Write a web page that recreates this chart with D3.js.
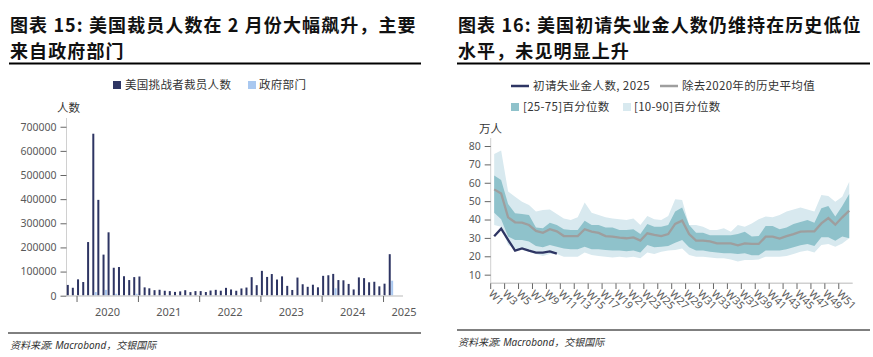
<!DOCTYPE html>
<html><head><meta charset="utf-8">
<script src="https://cdn.jsdelivr.net/npm/d3@7"></script>
<style>
body{margin:0;background:#fff;}
svg{display:block;}
text{font-family:"Noto Sans","Noto Sans CJK SC",sans-serif;}
.cjk{font-family:"Noto Sans CJK SC",sans-serif;}
</style></head>
<body>
<svg id="c" width="873" height="357"></svg>
<script>
// ---------- Left chart data (monthly, Nov 2019 - Feb 2025) ----------
const months = d3.range(0, 64).map(i => new Date(2019, 10 + i, 1));
const challengerCuts = [44569,32843,67735,56660,222288,671129,397016,170219,262649,115762,118804,80666,64797,77030,
  79552,34531,30603,22913,24586,20476,18942,15723,17895,22822,14875,19052,
  19064,15245,21387,24286,20712,32517,25810,20485,29989,33843,76835,43651,
  102943,77770,89703,66995,80089,40709,23697,75151,47457,36836,45510,34817,
  82307,84638,90309,64789,63816,48786,25885,75891,72821,55597,57727,38792,
  49795,172017];
const governmentCuts = [0,0,0,0,0,15000,0,24000,0,8000,0,0,0,8000,
  0,0,0,0,0,0,0,0,0,0,0,0,
  0,0,0,0,0,0,0,0,0,0,0,0,
  0,0,0,0,0,0,0,0,0,0,0,0,
  0,0,31000,0,0,0,0,0,0,0,0,0,
  0,62242];
const leftYTicks = [0,100000,200000,300000,400000,500000,600000,700000];
const yearLabels = [2020,2021,2022,2023,2024,2025];

// ---------- Right chart data (weekly, 万人) ----------
const weeks = d3.range(1, 53).map(i => "W" + i);
const claims2025 = [30.9,35.0,28.9,23.1,24.3,23.1,22.0,22.0,22.7,21.4];
const histAvg = [56.4,54.2,41.2,38.5,38.3,37.0,33.8,32.8,34.7,33.6,31.0,31.0,31.0,34.7,33.4,32.7,31.0,30.7,30.1,29.8,30.3,28.5,32.5,31.6,
  31.0,32.1,37.6,39.4,32.1,28.5,28.5,28.1,27.0,27.0,27.0,26.0,27.0,26.7,26.7,30.7,30.7,29.6,31.0,32.1,33.4,33.6,33.6,37.9,40.8,37.2,41.2,44.8];
const p75 = [63.9,61.5,48.4,43.4,43.0,42.5,35.7,35.2,38.3,37.0,34.7,34.3,34.3,39.4,37.0,37.0,35.7,35.7,34.3,34.3,34.7,32.1,37.6,36.1,
  36.1,37.0,44.3,46.6,37.0,32.8,32.8,31.4,31.4,31.4,31.4,32.1,33.4,30.7,31.0,36.5,36.5,34.7,35.7,37.6,38.7,39.7,38.3,46.1,47.4,41.6,47.4,53.9];
const p25 = [43.7,40.1,30.7,28.9,28.9,28.0,25.6,24.9,26.1,25.2,24.3,23.8,23.8,25.2,23.8,23.8,23.4,23.1,23.1,22.7,23.1,22.0,26.1,24.9,
  25.2,25.6,27.4,28.9,24.9,23.1,23.1,22.5,22.0,21.6,21.6,21.2,21.6,20.5,20.5,23.1,23.1,23.1,23.8,24.9,26.0,26.7,25.6,30.3,30.3,28.5,30.7,29.8];
const p90 = [75.6,77.5,55.2,52.4,49.7,47.9,44.3,45.2,45.5,43.0,40.6,39.7,41.2,49.2,43.7,42.5,41.2,40.6,40.1,39.7,40.6,37.0,41.9,40.1,
  39.7,41.9,51.0,50.6,37.0,37.0,36.1,34.3,34.3,35.2,33.4,37.0,36.1,37.9,40.1,41.6,41.2,42.5,44.3,45.5,46.6,45.5,44.3,53.3,52.8,49.7,52.4,60.6];
const p10 = [37.0,36.1,26.1,24.3,23.4,22.5,21.2,20.2,21.2,21.2,19.8,19.8,19.8,22.0,20.7,20.2,19.8,19.4,19.8,19.4,19.8,18.9,22.0,21.2,
  22.5,23.1,23.4,24.3,20.7,19.8,19.8,19.4,18.9,18.9,18.3,17.1,18.0,18.0,18.3,19.8,19.8,19.8,20.2,21.2,22.5,23.1,22.0,26.1,26.7,25.2,27.0,29.8];
const rightYTicks = [10,20,30,40,50,60,70,80];

const NAVY = "#2e3563", LIGHTBLUE = "#a9c8f0", TEAL = "#8fc2cb", PALE = "#d8e9ef", GREY = "#9e9e9e", TXT = "#595959", AX = "#d0d0d0";

const svg = d3.select("#c");

// ---------- Titles ----------
function title(x, lines){
  const t = svg.append("text").attr("class","cjk").attr("x",x).attr("y",32)
    .attr("font-size",18).attr("font-weight",700).attr("fill","#111").attr("letter-spacing","1.1px");
  lines.forEach((l,i)=> t.append("tspan").attr("x",x).attr("y",32+i*26).text(l));
}
title(10, ["图表 15: 美国裁员人数在 2 月份大幅飙升，主要","来自政府部门"]);
title(458, ["图表 16: 美国初请失业金人数仍维持在历史低位","水平，未见明显上升"]);
svg.append("line").attr("x1",9).attr("x2",421).attr("y1",63.5).attr("y2",63.5).attr("stroke","#000").attr("stroke-width",1.8);
svg.append("line").attr("x1",457).attr("x2",870).attr("y1",63.5).attr("y2",63.5).attr("stroke","#000").attr("stroke-width",1.8);

// ---------- Footers ----------
svg.append("line").attr("x1",8).attr("x2",421).attr("y1",333).attr("y2",333).attr("stroke","#000").attr("stroke-width",1);
svg.append("line").attr("x1",457).attr("x2",870).attr("y1",330).attr("y2",330).attr("stroke","#000").attr("stroke-width",1);
svg.append("text").attr("x",10).attr("y",349).attr("font-size",10).attr("font-style","italic").attr("fill","#333").text("资料来源: Macrobond，交银国际");
svg.append("text").attr("x",458).attr("y",346).attr("font-size",10).attr("font-style","italic").attr("fill","#333").text("资料来源: Macrobond，交银国际");

// ---------- Left chart ----------
const xL = d3.scaleTime().domain([new Date(2019,10,1), new Date(2025,3,27)]).range([66.8, 403]);
const yL = d3.scaleLinear().domain([0, 730000]).range([295.7, 119.5]);
const gL = svg.append("g");

// legend
gL.append("rect").attr("x",113).attr("y",81).attr("width",8).attr("height",8).attr("fill",NAVY);
gL.append("text").attr("class","cjk").attr("x",125).attr("y",89).attr("font-size",11.5).attr("letter-spacing","0.3px").attr("fill","#333").text("美国挑战者裁员人数");
gL.append("rect").attr("x",248).attr("y",81).attr("width",8).attr("height",8).attr("fill",LIGHTBLUE);
gL.append("text").attr("class","cjk").attr("x",259).attr("y",89).attr("font-size",11.5).attr("letter-spacing","0.3px").attr("fill","#333").text("政府部门");
gL.append("text").attr("class","cjk").attr("x",57).attr("y",112).attr("font-size",11.5).attr("fill","#333").text("人数");

// y axis
const yAxL = d3.axisLeft(yL).tickValues(leftYTicks).tickSize(6).tickPadding(4).tickFormat(d3.format("d"));
const gy = gL.append("g").attr("transform","translate(66.5,0)").call(yAxL);
gy.select(".domain").attr("stroke",AX).attr("d","M0,118V295.7");
gy.selectAll(".tick line").attr("stroke","#666");
gy.selectAll(".tick text").attr("fill",TXT).attr("font-size",10.5).attr("font-family","Noto Sans");

// bars
gL.selectAll("rect.ch").data(months).join("rect").attr("class","ch")
  .attr("x",(d)=>xL(d)).attr("width",2)
  .attr("y",(d,i)=>yL(challengerCuts[i])).attr("height",(d,i)=>yL(0)-yL(challengerCuts[i]))
  .attr("fill",NAVY);
gL.selectAll("rect.gov").data(months).join("rect").attr("class","gov")
  .attr("x",(d)=>xL(d)+2.4).attr("width",2)
  .attr("y",(d,i)=>yL(governmentCuts[i])).attr("height",(d,i)=>yL(0)-yL(governmentCuts[i]))
  .attr("fill",LIGHTBLUE);

// x axis
gL.append("line").attr("x1",66.5).attr("x2",403).attr("y1",296).attr("y2",296).attr("stroke",AX).attr("stroke-width",1.5);
gL.selectAll("line.yt").data(yearLabels).join("line").attr("class","yt")
  .attr("x1",d=>xL(new Date(d,0,1))).attr("x2",d=>xL(new Date(d,0,1)))
  .attr("y1",296).attr("y2",302).attr("stroke","#666");
gL.selectAll("text.yl").data(yearLabels).join("text").attr("class","yl")
  .attr("x",d=>Math.min(xL(new Date(d,6,1)), 404)).attr("y",316).attr("text-anchor","middle")
  .attr("font-size",11).attr("fill",TXT).text(d=>d);

// ---------- Right chart ----------
const xR = d3.scaleBand().domain(weeks).range([490.7, 852.7]).padding(0);
const yR = d3.scaleLinear().domain([5.3, 84.3]).range([283.3, 138.1]);
const cx = w => xR(w) + xR.bandwidth()/2;
const gR = svg.append("g");

// legend
gR.append("line").attr("x1",511).attr("x2",529).attr("y1",86).attr("y2",86).attr("stroke",NAVY).attr("stroke-width",2.5);
gR.append("text").attr("class","cjk").attr("x",533).attr("y",90).attr("font-size",11.5).attr("letter-spacing","0.4px").attr("fill","#333").text("初请失业金人数, 2025");
gR.append("line").attr("x1",660).attr("x2",678).attr("y1",86).attr("y2",86).attr("stroke",GREY).attr("stroke-width",2.5);
gR.append("text").attr("class","cjk").attr("x",682).attr("y",90).attr("font-size",11.5).attr("letter-spacing","0.3px").attr("fill","#333").text("除去2020年的历史平均值");
gR.append("rect").attr("x",511).attr("y",103).attr("width",8).attr("height",8).attr("fill",TEAL);
gR.append("text").attr("class","cjk").attr("x",523).attr("y",111).attr("font-size",11.5).attr("letter-spacing","0.3px").attr("fill","#333").text("[25-75]百分位数");
gR.append("rect").attr("x",623).attr("y",103).attr("width",8).attr("height",8).attr("fill",PALE);
gR.append("text").attr("class","cjk").attr("x",634).attr("y",111).attr("font-size",11.5).attr("letter-spacing","0.3px").attr("fill","#333").text("[10-90]百分位数");
gR.append("text").attr("class","cjk").attr("x",479).attr("y",133).attr("font-size",11.5).attr("fill","#333").text("万人");

// bands
const area = (lo, hi) => d3.area().x((d,i)=>cx(weeks[i])).y0((d,i)=>yR(lo[i])).y1((d,i)=>yR(hi[i]));
gR.append("path").datum(weeks).attr("d", area(p10,p90)).attr("fill",PALE);
gR.append("path").datum(weeks).attr("d", area(p25,p75)).attr("fill",TEAL);
gR.append("path").datum(histAvg).attr("d", d3.line().x((d,i)=>cx(weeks[i])).y(d=>yR(d))).attr("fill","none").attr("stroke",GREY).attr("stroke-width",2.3);
gR.append("path").datum(claims2025).attr("d", d3.line().x((d,i)=>cx(weeks[i])).y(d=>yR(d))).attr("fill","none").attr("stroke",NAVY).attr("stroke-width",2.3);

// y axis
const yAxR = d3.axisLeft(yR).tickValues(rightYTicks).tickSize(6).tickPadding(4);
const gyr = gR.append("g").attr("transform","translate(490.7,0)").call(yAxR);
gyr.select(".domain").attr("stroke",AX).attr("d","M0,138V283.3");
gyr.selectAll(".tick line").attr("stroke","#666");
gyr.selectAll(".tick text").attr("fill",TXT).attr("font-size",10.5);

// x axis
const oddWeeks = weeks.filter((w,i)=>i%2===0);
gR.append("line").attr("x1",490.7).attr("x2",852.7).attr("y1",283.3).attr("y2",283.3).attr("stroke",AX).attr("stroke-width",1.5);
gR.selectAll("line.wt").data(oddWeeks).join("line").attr("class","wt")
  .attr("x1",d=>xR(d)).attr("x2",d=>xR(d)).attr("y1",283.3).attr("y2",289).attr("stroke","#666");
gR.selectAll("text.wl").data(oddWeeks).join("text").attr("class","wl")
  .attr("transform",d=>`translate(${xR(d)},${292}) rotate(45)`)
  .attr("dy","0.35em").attr("font-size",10.5).attr("fill",TXT).text(d=>d);
</script>
</body></html>
